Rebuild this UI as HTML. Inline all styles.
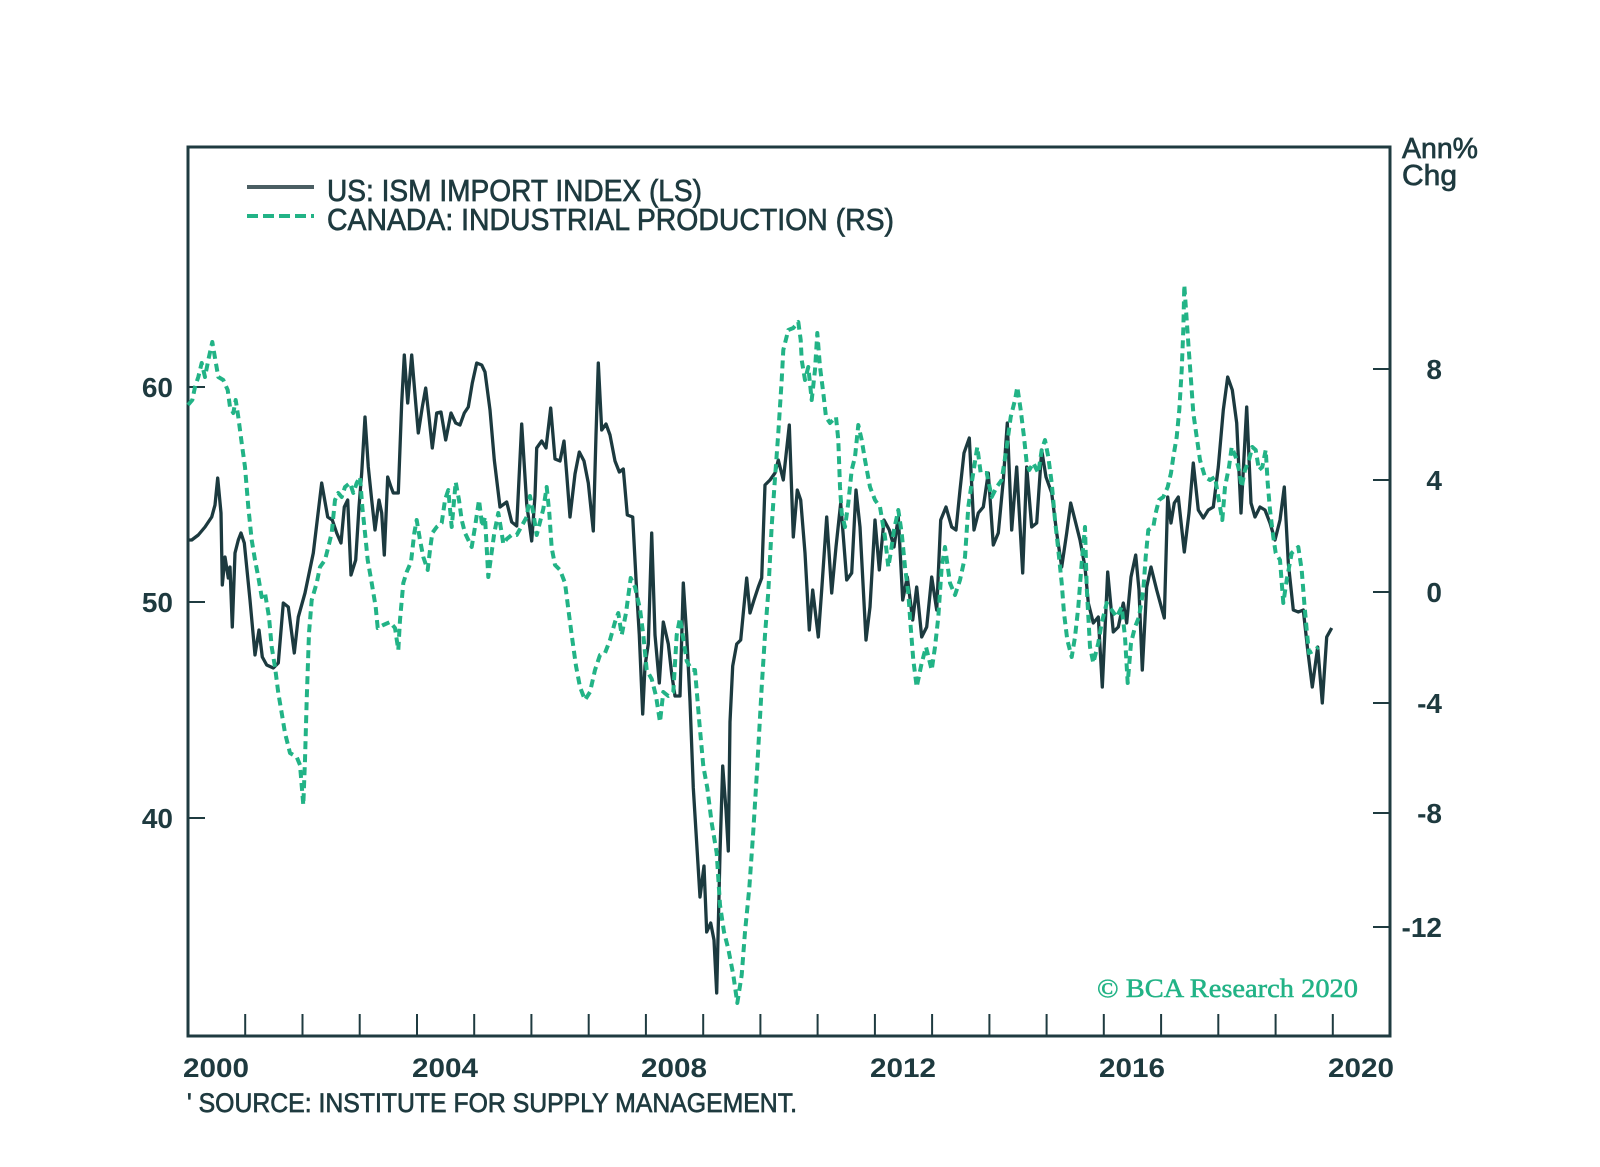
<!DOCTYPE html>
<html>
<head>
<meta charset="utf-8">
<style>
html,body{margin:0;padding:0;background:#fff;}
svg{display:block;}
text{font-family:"Liberation Sans",sans-serif;fill:#1e3a3f;}
.med{stroke:#1e3a3f;stroke-width:0.7;}
</style>
</head>
<body>
<svg width="1600" height="1167" viewBox="0 0 1600 1167" xmlns="http://www.w3.org/2000/svg">
<rect width="1600" height="1167" fill="#fff"/>

<!-- frame -->
<rect x="188" y="147" width="1202" height="889" fill="none" stroke="#1f3b40" stroke-width="3"/>

<!-- x ticks -->
<g stroke="#1f3b40" stroke-width="2">
<line x1="245.2" y1="1014" x2="245.2" y2="1036"/>
<line x1="302.5" y1="1014" x2="302.5" y2="1036"/>
<line x1="359.7" y1="1014" x2="359.7" y2="1036"/>
<line x1="417" y1="1014" x2="417" y2="1036"/>
<line x1="474.2" y1="1014" x2="474.2" y2="1036"/>
<line x1="531.4" y1="1014" x2="531.4" y2="1036"/>
<line x1="588.7" y1="1014" x2="588.7" y2="1036"/>
<line x1="645.9" y1="1014" x2="645.9" y2="1036"/>
<line x1="703.2" y1="1014" x2="703.2" y2="1036"/>
<line x1="760.4" y1="1014" x2="760.4" y2="1036"/>
<line x1="817.6" y1="1014" x2="817.6" y2="1036"/>
<line x1="874.9" y1="1014" x2="874.9" y2="1036"/>
<line x1="932.1" y1="1014" x2="932.1" y2="1036"/>
<line x1="989.4" y1="1014" x2="989.4" y2="1036"/>
<line x1="1046.6" y1="1014" x2="1046.6" y2="1036"/>
<line x1="1103.8" y1="1014" x2="1103.8" y2="1036"/>
<line x1="1161.1" y1="1014" x2="1161.1" y2="1036"/>
<line x1="1218.3" y1="1014" x2="1218.3" y2="1036"/>
<line x1="1275.6" y1="1014" x2="1275.6" y2="1036"/>
<line x1="1332.8" y1="1014" x2="1332.8" y2="1036"/>
<!-- left ticks -->
<line x1="188" y1="387" x2="205" y2="387"/>
<line x1="188" y1="602" x2="205" y2="602"/>
<line x1="188" y1="818" x2="205" y2="818"/>
<!-- right ticks -->
<line x1="1373" y1="369" x2="1390" y2="369"/>
<line x1="1373" y1="480" x2="1390" y2="480"/>
<line x1="1373" y1="592" x2="1390" y2="592"/>
<line x1="1373" y1="703" x2="1390" y2="703"/>
<line x1="1373" y1="813" x2="1390" y2="813"/>
<line x1="1373" y1="927" x2="1390" y2="927"/>
</g>

<!-- left tick labels -->
<g font-size="28" font-weight="bold" text-anchor="end">
<text x="173" y="397">60</text>
<text x="173" y="612">50</text>
<text x="173" y="828">40</text>
</g>
<!-- right tick labels -->
<g font-size="28" font-weight="bold" text-anchor="end">
<text x="1442" y="379">8</text>
<text x="1442" y="490">4</text>
<text x="1442" y="602">0</text>
<text x="1442" y="713">-4</text>
<text x="1442" y="823">-8</text>
<text x="1442" y="937">-12</text>
</g>
<text class="med" x="1402" y="158" font-size="29" textLength="76" lengthAdjust="spacingAndGlyphs">Ann%</text>
<text class="med" x="1402" y="185" font-size="29" textLength="55" lengthAdjust="spacingAndGlyphs">Chg</text>

<!-- x labels -->
<g font-size="27" font-weight="bold">
<text x="183" y="1077" textLength="66" lengthAdjust="spacingAndGlyphs">2000</text>
<text x="412" y="1077" textLength="66" lengthAdjust="spacingAndGlyphs">2004</text>
<text x="641" y="1077" textLength="66" lengthAdjust="spacingAndGlyphs">2008</text>
<text x="870" y="1077" textLength="66" lengthAdjust="spacingAndGlyphs">2012</text>
<text x="1099" y="1077" textLength="66" lengthAdjust="spacingAndGlyphs">2016</text>
<text x="1328" y="1077" textLength="66" lengthAdjust="spacingAndGlyphs">2020</text>
</g>

<!-- source -->
<text class="med" x="187" y="1112" font-size="27" textLength="610" lengthAdjust="spacingAndGlyphs">' SOURCE: INSTITUTE FOR SUPPLY MANAGEMENT.</text>

<!-- legend -->
<line x1="247" y1="187" x2="314" y2="187" stroke="#4b5e63" stroke-width="4"/>
<line x1="247" y1="216" x2="314" y2="216" stroke="#22b386" stroke-width="4" stroke-dasharray="11 5"/>
<text class="med" x="327" y="201" font-size="31" textLength="375" lengthAdjust="spacingAndGlyphs">US: ISM IMPORT INDEX (LS)</text>
<text class="med" x="327" y="230" font-size="31" textLength="567" lengthAdjust="spacingAndGlyphs">CANADA: INDUSTRIAL PRODUCTION (RS)</text>

<!-- copyright -->
<text x="1097" y="997" font-size="26" style="font-family:'Liberation Serif',serif;fill:#22b386;stroke:#22b386;stroke-width:0.5" textLength="261" lengthAdjust="spacingAndGlyphs">© BCA Research 2020</text>

<!-- US ISM import index (dark) -->
<polyline fill="none" stroke="#1c3a3f" stroke-width="3.3" stroke-linejoin="round" points="
188,540 191.7,540 198.3,535 205,527 211.7,517 215,505 217.7,478 221,513 222.3,585 225,557 228.3,578 230,567 232.3,627 235,553 238.3,540 241,533 244.3,543 250,600 255,655 259,630 262.3,657 266.7,665 273.3,668 278.3,663 283.3,603 288.3,607 294.3,653 298.3,617 305,593 313.3,553 321.7,483 327.7,517 332.3,520 336.7,533 341,543 344.3,507 347.7,500 351,575 355.7,560 359,507 361.7,473 365,417 368.3,467 371.7,500 375,530 379,500 381.7,513 384.3,555 387.7,477 391,487 393.3,493 398.3,493 401.7,403 404.3,355 407.7,403 411.7,355 415.7,403 418.3,433 422.3,407 425.7,388 429,417 432.3,448 436.7,413 441,412 445.7,440 451,413 455.7,423 460,425 464.3,413 468.3,407 472.3,383 476.7,363 481.7,365 485,372 490,410 494.3,460 500,507
506.7,502 511.7,522 516.7,526 521.7,424 526.7,504 531.7,541 535,496 536.7,448 541.7,441 546,448 550.7,408 555,459 560,461 564,441 566.7,474 570,517 575,474 579.3,452 584,461 588.3,483 593.3,531 596,435 598.3,363 601.7,430 606,424 610,435 615,461 619.3,472 623.3,469 627.3,515 632.7,517 636.7,592 639.3,635 642.7,714 645,666 648.3,644 651.7,533 655,635 659.3,683 663.3,622 668.3,644 671.7,674 675,696 680,696 683.3,583 686.7,635 690,701 693.3,788 697.3,853 700,897 704,866 706.7,932 710.7,923 714,940 716.7,993 720,853 722.7,766 726,810 728.3,851 730,722 732.7,666 736.7,644 740.7,640 743.3,613 746.7,578 750,613 754,600 758.3,587 761.7,578 765,485 770,480
775,473 778.3,460 783.3,480 789.3,425 793.3,537 797.3,490 800.7,500 805,553 809.3,630 812.7,590 818.3,637 821.7,590 826.7,517 831.7,593 836,547 840.7,503 846.7,580 851.7,573 856,490 860,527 866,640 870,607 875,520 879.3,570 884,520 889.3,530 894,547 898.3,517 902.7,600 907.3,577 912.7,620 916.7,587 921.7,637 926.7,627 931.7,577 936.7,610 940.7,520 946,507 951.7,527 956,530 960,490 964,453 969.3,438 974,530 978.3,513 983.3,507 988.3,473 993.3,545 998.3,533 1003.3,480 1007.3,423 1011.7,530 1016.7,467 1022.7,573 1026.7,467 1031.7,527 1036.7,523 1041.7,450 1046,477 1051.7,493 1056.7,533 1061.7,567 1066.7,533 1070.7,503 1075,520 1080,540 1085,567
1088.3,603 1093.3,623 1098.3,617 1102.3,687 1107.7,572 1113.3,632 1118.3,627 1123.3,603 1126.7,623 1131,577 1135.7,555 1139,590 1142.3,670 1146.7,587 1151,567 1156.7,590 1164.3,618 1167.7,497 1171,523 1174.3,503 1178.3,497 1184.3,552 1189,513 1193.3,463 1198.3,510 1203.3,518 1208.3,510 1213.3,507 1218.3,467 1223.3,410 1227.7,377 1232.3,390 1236.7,423 1241,513 1246.7,407 1251,503 1255,517 1260,507 1265,510 1270,523 1275,540 1280,520 1284.3,487 1288.3,563 1293.3,610 1298.3,612 1303.3,610 1307.7,650 1312.3,687 1317.7,647 1322.3,703 1326.7,637 1331.7,628"/>

<!-- Canada industrial production (green dashed) -->
<polyline fill="none" stroke="#22b386" stroke-width="4" stroke-dasharray="8 5" stroke-linejoin="round" points="
188,405 192.3,400 195,387 198.3,377 201.7,363 205,377 208.3,360 212.3,342 215.7,362 218.3,377 223.3,380 227.7,390 230,407 233.3,413 235.7,400 238.3,417 241.7,443 245,467 248.3,507 251.7,540 255,560 258.3,577 261.7,597 265,593 269,617 271.7,647 275,667 278.3,693 281.7,713 285,733 290,753 296.7,757 300,765 303.3,805 305,760 306.7,700 309,633 311.7,600 316.7,583 320,567 325,560 328.3,547 331.7,533 335,500 338.3,493 341.7,497 345,487 350,483 353.3,493 356.7,483 360,477 362.3,507 365,533 367.7,560 371.7,583 375.7,607 377.7,628 383.3,625 390,622 395,628 398.3,650 400,620 403.3,583 406.7,572 411,562 414.3,533 416.7,520 420,540 423.3,557 427.7,570 430,550 432.3,533 436.7,527 441.7,523 445,500 448.3,490 451.7,527 455.7,482 459,500 461.7,520 465,533 471.7,547 475,527 479,500 482.3,527 485,517 488.3,577 491,557 494.3,533 498.3,513 501.7,533
503.3,544 506.7,539 511.7,535 516.7,535 521.7,526 526.7,517 530,496 533.3,513 536.7,535 540,522 543.3,509 546.7,487 549.3,513 551.7,548 555,565 560,570 565,583 568.3,609 571.7,635 576,666 580,687 585,700 590,692 595,670 600,655 605,653 610,640 615,622 618.3,613 621.7,635 626,613 630.7,578 635,587 640,609 643.3,635 646.7,670 651.7,679 656,696 660,722 663.3,692 668.3,696 673.3,692 676.7,635 680,618 682.7,635 686.7,661 691.7,670 695,670 699.3,722 703.3,766 707.3,788 711.7,823 716.7,853 720,905 724,932 728.3,949 733.3,975 737.3,1003 741.7,975 745,932 749.3,888 753.3,831 757.3,766 761.7,687 765,635 768.3,592 771.7,526 775,478
778.3,433 781.7,380 783.3,350 788.3,330 793.3,328 798.3,322 800.7,340 801.7,360 805,380 808.3,367 811.7,400 815,370 817.3,333 820,367 823.3,393 826,417 830,423 836,417 838.3,440 840,487 841.7,513 845,527 848.3,503 851.7,470 855,457 858.3,425 861.7,440 865,460 870,487 875,500 880,507 885,537 888.3,567 890.7,553 894,530 898.3,510 901.7,533 905,567 908.3,593 910.7,627 913.3,660 916.7,687 921.7,663 926,647 931.7,670 935,647 938.3,617 941.7,567 945,547 950,583 955,595 960,580 965,557 968.3,507 971.7,483 977.3,447 980.7,473 986.7,473 991.7,497 996.7,487 1001.7,480 1006.7,447 1010.7,417 1015,400 1017.3,387 1020.7,410 1024,437 1026.7,463 1029.3,470 1033.3,463 1038.3,473 1041.7,450 1045,440 1048.3,457 1051.7,483 1055,520 1058.3,550 1061.7,583 1064,613 1067.3,640 1071.7,657 1075,637 1078.3,607 1081.7,563 1085,527
1086.7,587 1090,647 1093.3,663 1098.3,643 1101.7,623 1106.7,603 1111.7,610 1116.7,617 1121.7,607 1125,637 1127.7,683 1131,643 1135,627 1139,617 1143.3,590 1145.7,557 1148.3,530 1153.3,527 1155.7,513 1159,500 1163.3,497 1167.7,487 1171,473 1173.3,457 1176.7,437 1179.3,410 1181.7,370 1183.3,330 1184.3,285 1186.7,320 1189,353 1191,380 1193.3,413 1196.7,437 1200,460 1205,477 1210,480 1215,477 1218.3,497 1222.3,520 1225,487 1229,467 1231.7,447 1235.7,457 1239,470 1241.7,487 1245,470 1249,460 1252.3,447 1255.7,450 1259,470 1262.3,467 1265.7,450 1267.7,483 1270,510 1273.3,537 1275.7,553 1280,560 1283.3,603 1286.7,580 1291.7,553 1298.3,547 1301.7,570 1304.3,603 1306.7,630 1309,653 1315,650 1318.3,647"/>
</svg>
</body>
</html>
